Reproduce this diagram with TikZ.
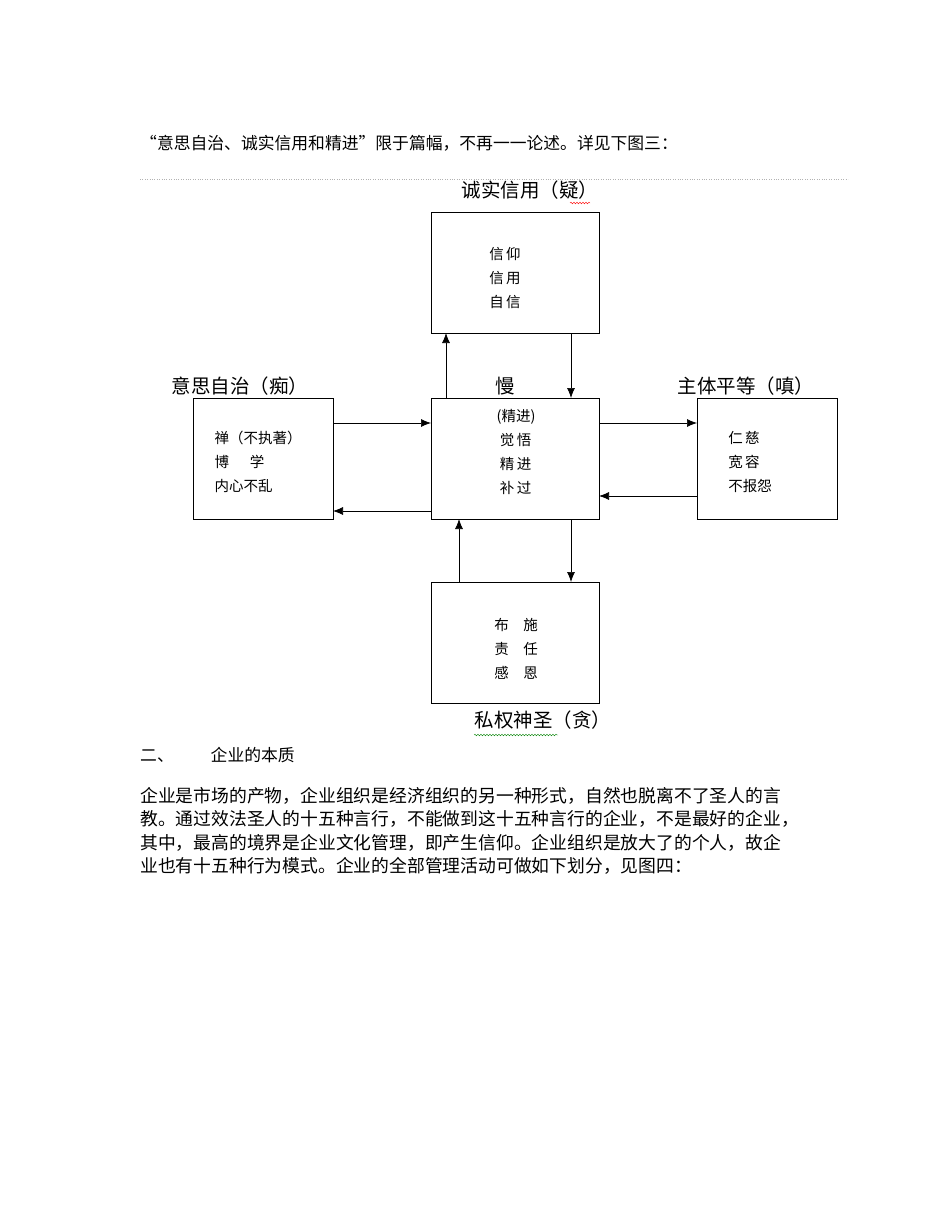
\documentclass[tikz,border=0pt]{standalone}
\usepackage{fontspec}
\setmainfont{Noto Sans CJK SC}
\usetikzlibrary{decorations.pathmorphing,arrows.meta}
\begin{document}
\begin{tikzpicture}[x=1pt,y=-1pt,
  box/.style={draw,line width=0.9pt},
  arr/.style={-{Latex[length=10pt,width=8pt]},line width=0.7pt},
  lab/.style={font=\fontsize{19.5}{20}\selectfont,inner sep=0},
  inbox/.style={font=\fontsize{14.5}{24}\selectfont,align=left,inner sep=0},
  body/.style={font=\fontsize{17.8}{23.5}\selectfont,anchor=north west,align=left,inner sep=0}]
\useasboundingbox (0,0) rectangle (950,1230);
\node[body,font=\fontsize{16.8}{20}\selectfont] (t0) at (140,135) {“意思自治、诚实信用和精进”限于篇幅，不再一一论述。详见下图三：};
\draw[gray!60,dotted] (140,179) coordinate (d1) -- (848,179) coordinate (d2);
\draw[box] (431,212) rectangle (599,333) coordinate (topc);
\draw[box] (431,398) rectangle (599,519);
\draw[box] (193,398) rectangle (333,519);
\draw[box] (697,398) rectangle (837,519);
\draw[box] (431,582) rectangle (599,703);
\node[lab] (lt) at (530,190) {诚实信用（疑）};
\node[lab] (ll) at (240,386) {意思自治（痴）};
\node[lab] (lc) at (505,386) {慢};
\node[lab] (lr) at (746,386) {主体平等（嗔）};
\node[lab] (lb) at (543,720) {私权神圣（贪）};
\draw[red,decorate,decoration={snake,amplitude=0.8pt,segment length=3pt}] (570,203) -- (590,203);
\draw[green!50!black,decorate,decoration={snake,amplitude=0.8pt,segment length=3pt}] (474,735) -- (558,735);
\node[inbox] (bt) at (505,278) {信\,仰\\信\,用\\自\,信};
\node[inbox] (bc) at (516,452) {(精进)\\\ 觉\,悟\\\ 精\,进\\\ 补\,过};
\node[inbox] (bl) at (258,462) {禅（不执著）\\博\quad\ \ 学\\内心不乱};
\node[inbox] (br) at (750,462) {仁\,慈\\宽\,容\\不报怨};
\node[inbox] (bb) at (516,649) {布\quad 施\\责\quad 任\\感\quad 恩};
\coordinate (a1) at (446,398); \coordinate (a1e) at (446,333);
\coordinate (a2) at (571,333); \coordinate (a2e) at (571,398);
\coordinate (a3) at (333,423); \coordinate (a3e) at (431,423);
\coordinate (a4) at (431,511); \coordinate (a4e) at (333,511);
\coordinate (a5) at (599,423); \coordinate (a5e) at (697,423);
\coordinate (a6) at (697,496); \coordinate (a6e) at (599,496);
\coordinate (a7) at (459,582); \coordinate (a7e) at (459,519);
\coordinate (a8) at (571,519); \coordinate (a8e) at (571,582);
\foreach \s in {1,...,8} \draw[arr] (a\s) -- (a\s e);
\node[body,font=\fontsize{16.8}{20}\selectfont] (h2) at (140,747) {二、\hspace{2.2em}企业的本质};
\node[body] (p) at (140,787) {企业是市场的产物，企业组织是经济组织的另一种形式，自然也脱离不了圣人的言\\教。通过效法圣人的十五种言行，不能做到这十五种言行的企业，不是最好的企业，\\其中，最高的境界是企业文化管理，即产生信仰。企业组织是放大了的个人，故企\\业也有十五种行为模式。企业的全部管理活动可做如下划分，见图四：};
\end{tikzpicture}
\end{document}
